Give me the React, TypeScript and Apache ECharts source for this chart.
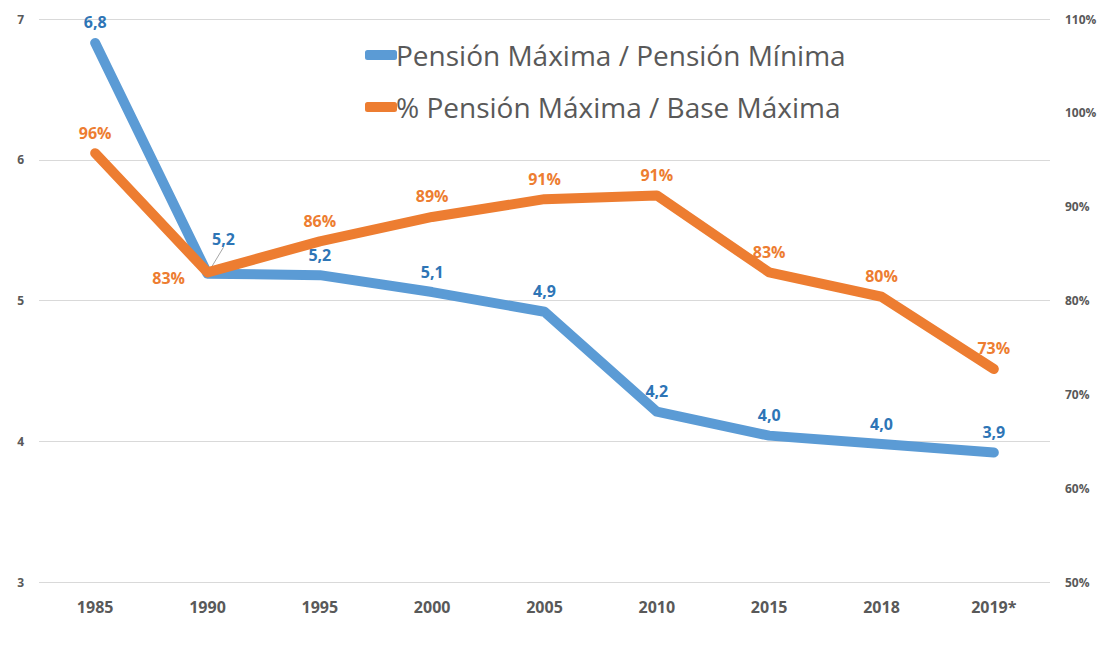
import React, { useEffect, useRef } from "react";
import * as echarts from "echarts";

const categories = ["1985", "1990", "1995", "2000", "2005", "2010", "2015", "2018", "2019*"];
const ratioMaxMin = [6.83, 5.19, 5.18, 5.06, 4.92, 4.21, 4.04, 3.98, 3.92];
const pctMaxBase = [95.7, 83.0, 86.3, 88.9, 90.8, 91.2, 83.0, 80.4, 72.7];
const leftTicks = { min: 3, max: 7, interval: 1 };
const rightTicks = { min: 50, max: 110, interval: 10 };
const seriesNames = ["Pensión Máxima / Pensión Mínima", "% Pensión Máxima / Base Máxima"];

const FONT = "'Open Sans', 'Noto Sans', sans-serif";

export default function App() {
  const ref = useRef<HTMLDivElement>(null);
  useEffect(() => {
    document.body.style.margin = "0";
    const chart = echarts.init(ref.current!, null, { renderer: "svg" });
    chart.setOption({
      animation: false,
      backgroundColor: "#ffffff",
      textStyle: { fontFamily: FONT },
      grid: { left: 39, right: 68, top: 19, bottom: 66 },
      legend: {
        orient: "vertical",
        left: 360,
        top: 36,
        itemGap: 24,
        itemWidth: 32,
        itemHeight: 10,
        icon: "roundRect",
        textStyle: { fontSize: 28, color: "#595959", fontFamily: FONT, padding: [0, 0, 0, -6] },
        data: seriesNames,
      },
      xAxis: {
        type: "category",
        data: categories,
        boundaryGap: true,
        axisLine: { show: false },
        axisTick: { show: false },
        axisLabel: { fontSize: 16, fontWeight: "bold", color: "#595959", margin: 17 },
      },
      yAxis: [
        {
          type: "value",
          ...leftTicks,
          axisLine: { show: false },
          axisTick: { show: false },
          splitLine: { lineStyle: { color: "#d9d9d9", width: 1 } },
          axisLabel: { fontSize: 12, fontWeight: "bold", color: "#595959", margin: 15 },
        },
        {
          type: "value",
          ...rightTicks,
          axisLine: { show: false },
          axisTick: { show: false },
          splitLine: { show: false },
          axisLabel: {
            fontSize: 12,
            fontWeight: "bold",
            color: "#595959",
            margin: 15,
            formatter: (v: number) => v + "%",
          },
        },
      ],
      series: [
        {
          name: seriesNames[0],
          type: "line",
          yAxisIndex: 0,
          data: ratioMaxMin.map((v, i) =>
            i === 1
              ? { value: v, labelLine: { show: true, lineStyle: { color: "#a6a6a6", width: 1 } } }
              : v
          ),
          showSymbol: true,
          symbol: "circle",
          symbolSize: 1,
          lineStyle: { color: "#5B9BD5", width: 10, cap: "round", join: "round" },
          itemStyle: { color: "#5B9BD5" },
          label: {
            show: true,
            position: "top",
            distance: 12,
            fontSize: 16,
            fontWeight: "bold",
            color: "#2E75B6",
            formatter: (p: any) => p.value.toFixed(1).replace(".", ","),
          },
          labelLine: { show: false },
          labelLayout: (p: any) => (p.dataIndex === 1 ? { dx: 16, dy: -14 } : {}),
          z: 2,
        },
        {
          name: seriesNames[1],
          type: "line",
          yAxisIndex: 1,
          data: pctMaxBase.map((v, i) =>
            i === 1
              ? { value: v, label: { position: "left", distance: 22, offset: [0, 6] } }
              : v
          ),
          showSymbol: true,
          symbol: "circle",
          symbolSize: 1,
          lineStyle: { color: "#ED7D31", width: 10, cap: "round", join: "round" },
          itemStyle: { color: "#ED7D31" },
          label: {
            show: true,
            position: "top",
            distance: 12,
            fontSize: 16,
            fontWeight: "bold",
            color: "#ED7D31",
            formatter: (p: any) => Math.round(p.value) + "%",
          },
          z: 3,
        },
      ],
    });
    return () => chart.dispose();
  }, []);
  return <div ref={ref} style={{ width: 1118, height: 648 }} />;
}
